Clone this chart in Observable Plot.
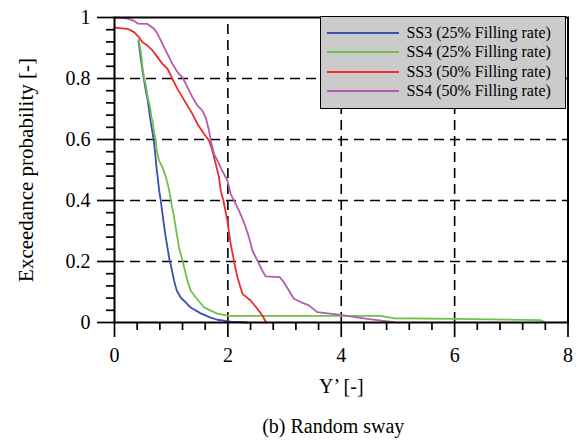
<!DOCTYPE html>
<html>
<head>
<meta charset="utf-8">
<script src="https://cdn.jsdelivr.net/npm/d3@7"></script>
<script src="https://cdn.jsdelivr.net/npm/@observablehq/plot@0.6"></script>
<style>
  body { margin: 0; background: #fff; }
  #wrap { position: relative; width: 580px; height: 441px; font-family: "Liberation Serif", "Times New Roman", Times, "DejaVu Serif", serif; }
  #wrap svg, #wrap svg text { font-family: "Liberation Serif", "Times New Roman", Times, "DejaVu Serif", serif; }
  #legend { position: absolute; left: 320px; top: 16px; width: 246px; height: 93px; box-sizing: border-box; background: #cbcbcb; border: 1.6px solid #000; }
  .row { position: absolute; left: 0; height: 20px; display: flex; align-items: center; }
  .sw { width: 72px; height: 2px; margin-left: 6.4px; margin-right: 7px; }
  .lab { font-size: 16px; white-space: nowrap; color: #000; line-height: 20px; }
</style>
</head>
<body>
<div id="wrap"></div>
<script>
// ---- data ----
const seriesNames = [
  "SS3 (25% Filling rate)",
  "SS4 (25% Filling rate)",
  "SS3 (50% Filling rate)",
  "SS4 (50% Filling rate)"
];
const seriesColors = ["#3a4fae", "#6cc24a", "#ee2b2b", "#b45bb0"];

const ss3_25_x = [0.423,0.463,0.507,0.552,0.587,0.610,0.640,0.670,0.690,0.715,0.740,0.765,0.790,0.816,0.846,0.874,0.904,0.934,0.975,0.992,1.050,1.098,1.168,1.256,1.344,1.521,1.697,1.815,2.050,2.344];
const ss3_25_p = [0.925,0.866,0.810,0.761,0.728,0.695,0.656,0.623,0.600,0.560,0.510,0.470,0.430,0.400,0.357,0.318,0.279,0.246,0.200,0.190,0.138,0.105,0.082,0.066,0.049,0.030,0.016,0.009,0.003,0.000];

const ss4_25_x = [0.423,0.451,0.476,0.493,0.522,0.552,0.581,0.627,0.652,0.670,0.693,0.728,0.745,0.786,0.846,0.904,0.962,1.004,1.045,1.080,1.138,1.198,1.286,1.344,1.433,1.579,1.697,1.815,2.019,4.690,4.920,6.010,7.510,7.600];
const ss4_25_p = [0.927,0.903,0.870,0.837,0.804,0.777,0.744,0.706,0.673,0.662,0.630,0.597,0.564,0.531,0.509,0.479,0.436,0.390,0.351,0.311,0.246,0.203,0.138,0.105,0.082,0.050,0.039,0.029,0.022,0.022,0.014,0.012,0.008,0.000];

const ss3_50_x = [0.000,0.229,0.345,0.433,0.493,0.581,0.670,0.758,0.846,0.934,0.992,1.050,1.110,1.198,1.286,1.374,1.463,1.579,1.667,1.727,1.785,1.843,1.873,1.921,1.991,2.049,2.107,2.167,2.256,2.402,2.520,2.608,2.675];
const ss3_50_p = [0.967,0.963,0.952,0.935,0.919,0.908,0.892,0.870,0.848,0.832,0.810,0.788,0.766,0.739,0.711,0.684,0.651,0.619,0.597,0.564,0.520,0.476,0.433,0.400,0.334,0.258,0.203,0.149,0.094,0.072,0.045,0.023,0.000];

const ss4_50_x = [0.000,0.217,0.345,0.411,0.581,0.698,0.758,0.816,0.874,0.962,1.022,1.110,1.198,1.256,1.315,1.374,1.463,1.551,1.609,1.667,1.697,1.755,1.843,1.908,1.991,2.049,2.079,2.137,2.196,2.284,2.372,2.432,2.520,2.608,2.666,2.913,2.989,3.077,3.165,3.283,3.429,3.577,3.988,4.458,4.927];
const ss4_50_p = [1.000,0.997,0.989,0.980,0.979,0.963,0.947,0.925,0.903,0.870,0.848,0.821,0.804,0.783,0.761,0.739,0.711,0.695,0.672,0.630,0.597,0.553,0.520,0.495,0.466,0.422,0.410,0.389,0.367,0.328,0.280,0.236,0.203,0.170,0.151,0.149,0.132,0.105,0.078,0.067,0.056,0.034,0.025,0.012,0.001];

const xDomain = [0, 8];
const yDomain = [0, 1];
const xMajor = [0, 2, 4, 6, 8];
const yMajor = [0, 0.2, 0.4, 0.6, 0.8, 1];
const xGrid = [2, 4, 6];
const yGrid = [0.2, 0.4, 0.6, 0.8];
const xLabel = "Y\u2019 [-]";
const yLabel = "Exceedance probability [-]";
const caption = "(b) Random sway";

// minor tick positions
const xMinor = d3.range(0, 8.001, 0.4).map(v => +v.toFixed(2)).filter(v => !xMajor.some(m => Math.abs(m - v) < 1e-6));
const yMinor = d3.range(0, 1.0001, 0.04).map(v => +v.toFixed(2)).filter(v => !yMajor.some(m => Math.abs(m - v) < 1e-6));

const seriesX = [ss3_25_x, ss4_25_x, ss3_50_x, ss4_50_x];
const seriesP = [ss3_25_p, ss4_25_p, ss3_50_p, ss4_50_p];
const tables = seriesNames.map((name, i) => seriesX[i].map((x, j) => ({x, p: seriesP[i][j], s: name})));

const font = "Liberation Serif, Times New Roman, Times, DejaVu Serif, serif";
const grid = {stroke: "#000", strokeWidth: 1.6, strokeDasharray: "10,6"};

const chart = Plot.plot({
  width: 580,
  height: 441,
  marginLeft: 114,
  marginRight: 12.5,
  marginTop: 17,
  marginBottom: 119,
  x: {domain: xDomain},
  y: {domain: yDomain},
  style: {fontFamily: font, fontSize: "20px", color: "#000", background: "#fff", overflow: "visible"},
  marks: [
    Plot.ruleY(yGrid, grid),
    Plot.ruleX(xGrid, {...grid, y1: yDomain[0], y2: yDomain[1]}),
    ...tables.map((t, i) => Plot.line(t, {x: "x", y: "p", stroke: seriesColors[i], strokeWidth: 1.8, strokeLinejoin: "round"})),
    Plot.axisX({ticks: xMinor, tickSize: 8, tickFormat: () => "", label: null, strokeWidth: 1.7}),
    Plot.axisX({ticks: xMajor, tickSize: 15, tickPadding: 10, tickFormat: d => String(d), label: null, fontSize: 20, strokeWidth: 1.7}),
    Plot.axisY({ticks: yMinor, tickSize: 8, tickFormat: () => "", label: null, strokeWidth: 1.7}),
    Plot.axisY({ticks: yMajor, tickSize: 17, tickPadding: 7, tickFormat: d => String(d), label: null, fontSize: 20, strokeWidth: 1.7}),
    Plot.frame({stroke: "#000", strokeWidth: 2}),
    Plot.text([yLabel], {text: d => d, frameAnchor: "left", textAnchor: "middle", rotate: -90, dx: -88, fontSize: 21}),
    Plot.text([xLabel], {text: d => d, frameAnchor: "bottom", dy: 70, fontSize: 20}),
    Plot.text([caption], {text: d => d, frameAnchor: "bottom", dy: 110, dx: -8, fontSize: 20})
  ]
});

const wrap = document.getElementById("wrap");
wrap.appendChild(chart);

// legend (inside the plot area, top-right)
const legend = document.createElement("div");
legend.id = "legend";
seriesNames.forEach((name, i) => {
  const row = document.createElement("div");
  row.className = "row";
  row.style.top = (5.9 + i * 19.5) + "px";
  const sw = document.createElement("div");
  sw.className = "sw";
  sw.style.background = seriesColors[i];
  const lab = document.createElement("span");
  lab.className = "lab";
  lab.textContent = name;
  row.appendChild(sw);
  row.appendChild(lab);
  legend.appendChild(row);
});
wrap.appendChild(legend);
</script>
</body>
</html>
